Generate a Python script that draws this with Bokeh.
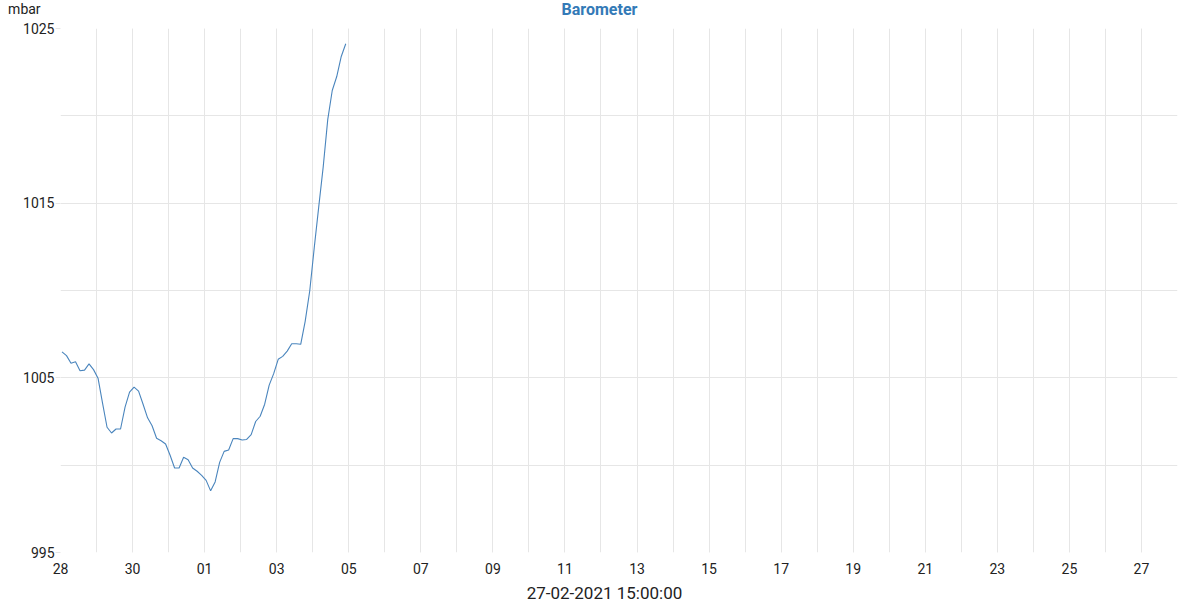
import pandas as pd
from bokeh.plotting import figure
from bokeh.models import Range1d, FixedTicker, DatetimeTickFormatter, Label, ColumnDataSource
from bokeh.embed import file_html
from bokeh.resources import INLINE

# ---- data (3-hourly barometer readings, mbar) ----
start_time = "2021-01-28 01:00"
step_hours = 3
pressure = [
    1006.49, 1006.27, 1005.84, 1005.92, 1005.41, 1005.44, 1005.80, 1005.47,
    1004.98, 1003.55, 1002.17, 1001.84, 1002.07, 1002.07, 1003.32, 1004.18,
    1004.47, 1004.24, 1003.49, 1002.71, 1002.26, 1001.54, 1001.40, 1001.21,
    1000.57, 999.84, 999.84, 1000.45, 1000.31, 999.84, 999.65, 999.42,
    999.13, 998.53, 999.04, 1000.16, 1000.79, 1000.87, 1001.52, 1001.52,
    1001.44, 1001.47, 1001.75, 1002.50, 1002.80, 1003.49, 1004.58, 1005.24,
    1006.06, 1006.23, 1006.53, 1006.95, 1006.95, 1006.92, 1008.25, 1009.97,
    1012.44, 1014.79, 1017.09, 1019.78, 1021.45, 1022.25, 1023.40, 1024.13,
]
x_start = "2021-01-28"
x_end = "2021-02-28"
y_major = [995, 1005, 1015, 1025]
y_minor = [1000, 1010, 1020]
title_text = "Barometer"
unit_text = "mbar"
x_label_text = "27-02-2021 15:00:00"

times = pd.date_range(start_time, periods=len(pressure), freq=f"{step_hours}h")
src = ColumnDataSource(dict(t=times, v=pressure))

FONT = "Roboto"
GRID = "#e6e6e6"

p = figure(width=1200, height=600, output_backend="svg", toolbar_location=None,
           x_axis_type="datetime",
           x_range=Range1d(pd.Timestamp(x_start), pd.Timestamp(x_end)),
           y_range=Range1d(995, 1025),
           min_border_left=60, min_border_right=23, min_border_top=28, min_border_bottom=48)
p.outline_line_color = None
p.background_fill_color = "white"
p.border_fill_color = "white"
p.title = None

p.line("t", "v", source=src, line_color="#4a85bd", line_width=1.1)

# x axis ticks: label every 2 days, grid every day
days = pd.date_range(x_start, x_end, freq="D")
major_days = days[::2]
to_ms = lambda d: d.value / 1e6
p.xaxis.ticker = FixedTicker(ticks=[to_ms(d) for d in major_days],
                             minor_ticks=[to_ms(d) for d in days])
p.xaxis.formatter = DatetimeTickFormatter(days="%d", months="%d", hours="%d")
p.yaxis.ticker = FixedTicker(ticks=y_major, minor_ticks=y_minor)
# the unit sits above the top tick label, in the same style
p.yaxis.major_label_overrides = {y_major[-1]: unit_text + "\u00a0" * 4 + "\n" + str(y_major[-1]) + "\n"}

for ax in (p.xaxis, p.yaxis):
    ax.axis_line_color = None
    ax.minor_tick_line_color = None
    ax.major_label_text_font = FONT
    ax.major_label_text_font_size = "14px"
    ax.major_label_text_color = "#222222"

p.xaxis.major_tick_line_color = None
p.xaxis.major_label_standoff = 4
p.yaxis.major_tick_line_color = GRID
p.yaxis.major_tick_out = 5
p.yaxis.major_tick_in = 0
p.yaxis.major_label_standoff = 1

p.xgrid.grid_line_color = GRID
p.xgrid.minor_grid_line_color = GRID
p.ygrid.grid_line_color = GRID
p.ygrid.minor_grid_line_color = GRID

# texts in the side panels
p.add_layout(Label(x=539, y=19, x_units="screen", y_units="screen", text=title_text,
                   text_font=FONT, text_font_size="16px", text_font_style="bold",
                   text_color="#337ab7", text_align="center", text_baseline="middle"), "above")
p.add_layout(Label(x=544, y=4, x_units="screen", y_units="screen", text=x_label_text,
                   text_font=FONT, text_font_size="17px", text_color="#222222",
                   text_align="center", text_baseline="middle"), "below")

open("out.html", "w").write(file_html(p, INLINE))
